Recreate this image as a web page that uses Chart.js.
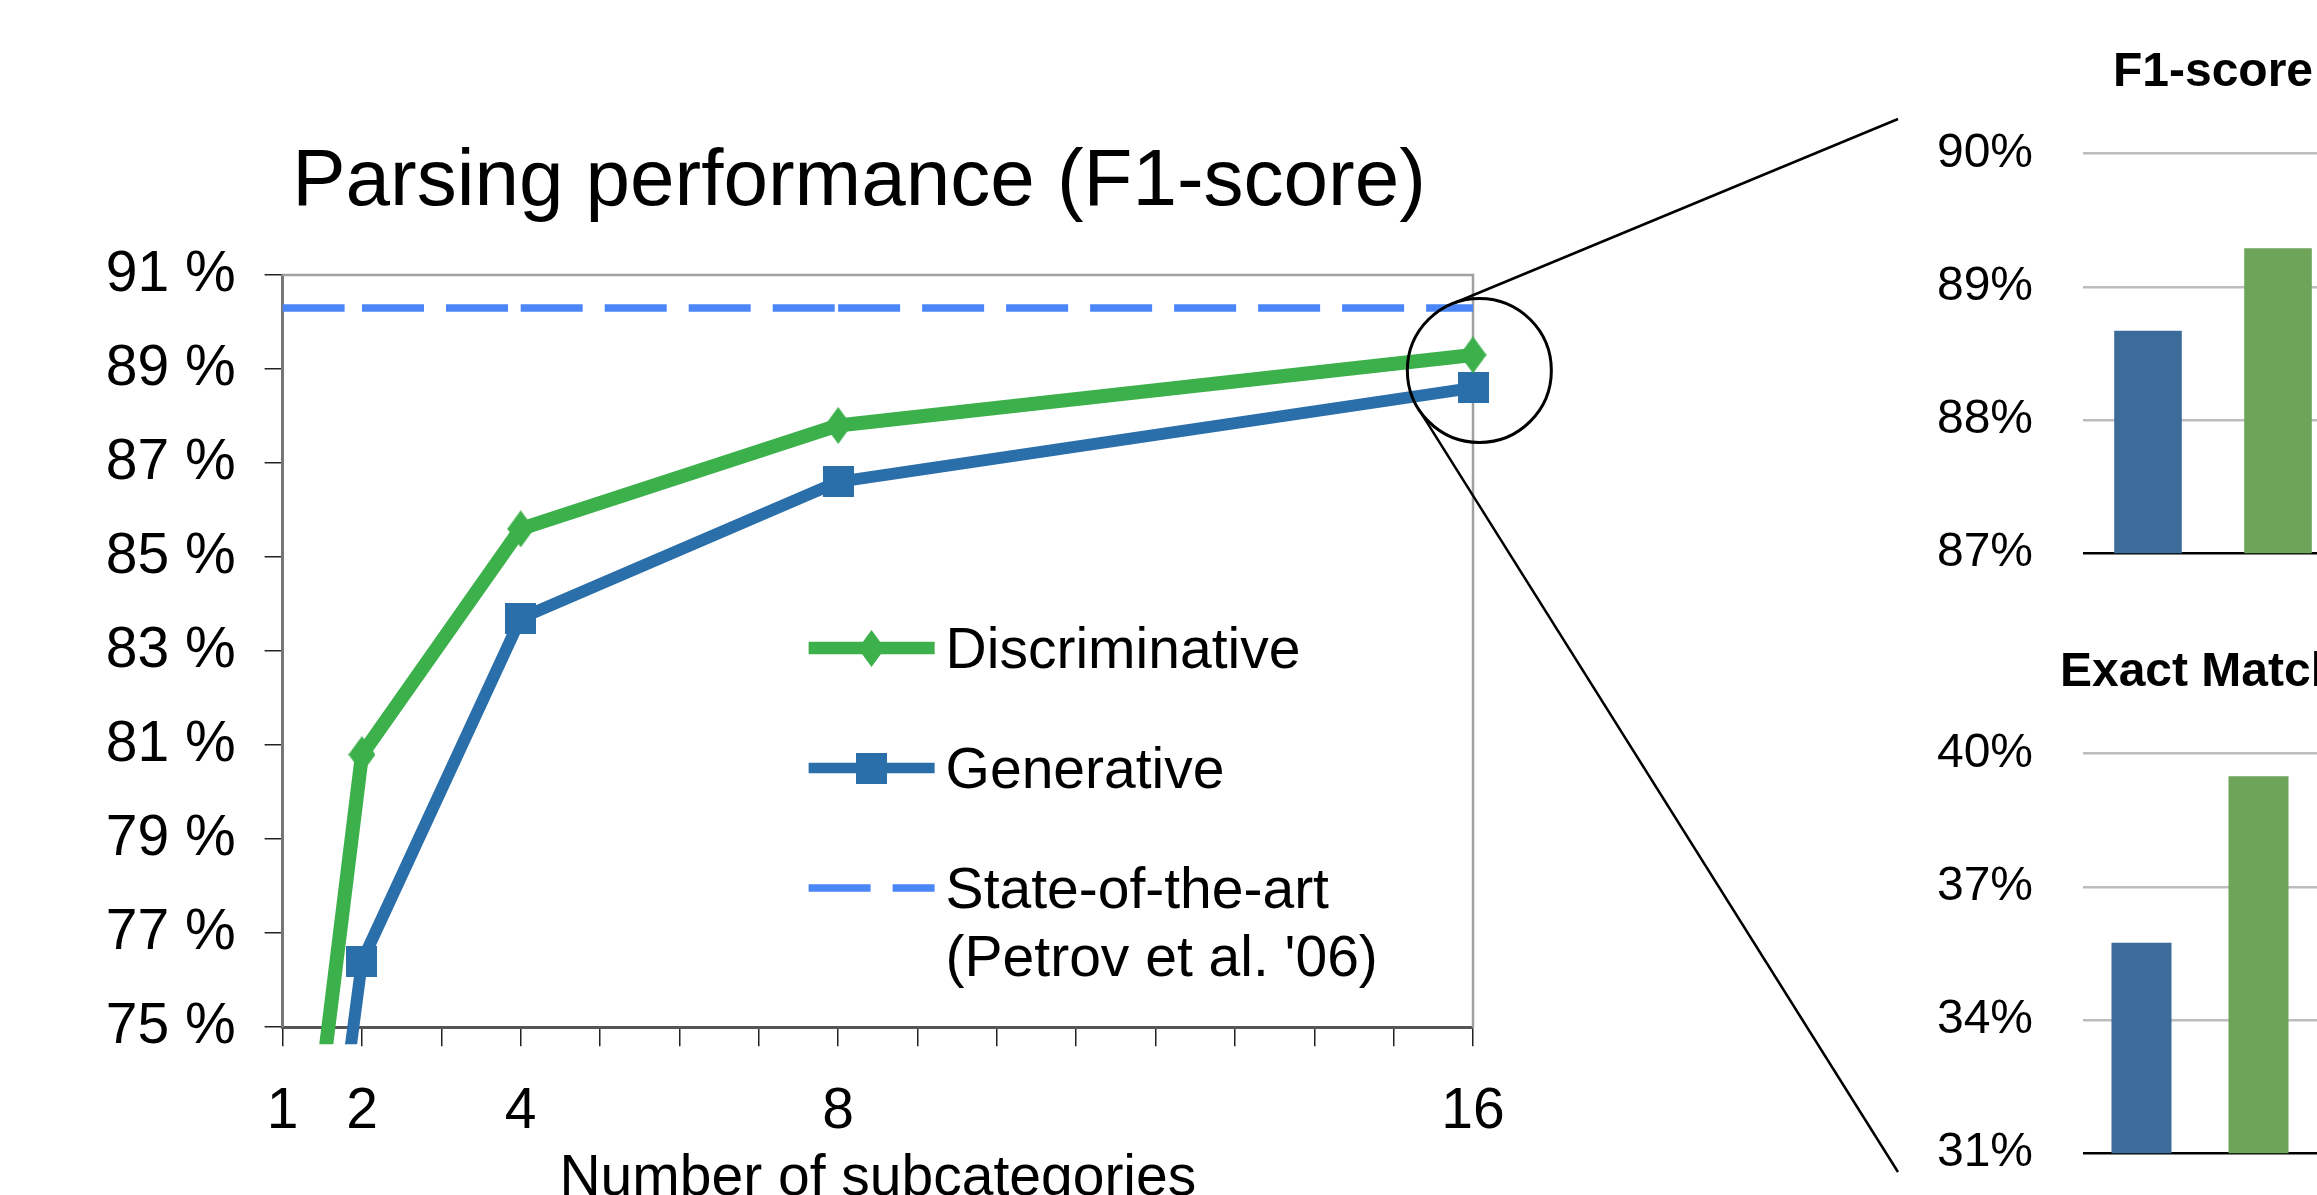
<!DOCTYPE html>
<html>
<head>
<meta charset="utf-8">
<title>Parsing performance</title>
<script src="https://cdn.jsdelivr.net/npm/chart.js@4.4.1/dist/chart.umd.min.js"></script>
<style>
  html, body { margin: 0; padding: 0; width: 2317px; height: 1195px; overflow: hidden; background: #fff; }
  canvas { position: absolute; display: block; }
  #lines { left: 0; top: 0; }
  #f1 { left: 1887px; top: 0; }
  #em { left: 1887px; top: 600px; }
</style>
</head>
<body>
<canvas id="lines" width="2317" height="1213"></canvas>
<canvas id="f1" width="652" height="632"></canvas>
<canvas id="em" width="626" height="632"></canvas>
<script>
// ---- data ----
const subcategories = [1, 2, 4, 8, 16];
const discriminative = [67.1, 80.8, 85.6, 87.8, 89.3];
const generative = [63.6, 76.4, 83.7, 86.6, 88.6];
const stateOfTheArt = [90.3, 90.3, 90.3, 90.3, 90.3];
const seriesNames = ['Discriminative', 'Generative', "State-of-the-art\n(Petrov et al. '06)"];
const xTickLabels = [1, 2, 4, 8, 16];

const barModels = ['Generative', 'Discriminative'];
const f1Scores = [88.67, 89.29];
const exactMatch = [35.74, 39.49];

// ---- styling ----
const FONT = "'Liberation Sans', Arial, Helvetica, sans-serif";
const GREEN = '#3cb04b';
const BLUE = '#2a6fa9';
const SOTA = '#4a86f7';
const BAR_COLORS = ['#3d6b9a', '#6ea45a'];

Chart.defaults.font.family = FONT;
Chart.defaults.color = '#000';

function diamondMarker(w, h, color) {
  const c = document.createElement('canvas');
  c.width = w; c.height = h;
  const g = c.getContext('2d');
  g.fillStyle = color;
  g.beginPath();
  g.moveTo(w / 2, 0); g.lineTo(w, h / 2); g.lineTo(w / 2, h); g.lineTo(0, h / 2);
  g.closePath(); g.fill();
  return c;
}
function squareMarker(s, color) {
  const c = document.createElement('canvas');
  c.width = s; c.height = s;
  const g = c.getContext('2d');
  g.fillStyle = color;
  g.fillRect(0, 0, s, s);
  return c;
}
const diamond = diamondMarker(27, 37, GREEN);
const square = squareMarker(31, BLUE);

const toPoints = ys => subcategories.map((x, i) => ({ x, y: ys[i] }));
const lineClip = { left: 30, top: 30, right: 40, bottom: 17 };

// empty right-hand box that balances the layout so the title sits where wanted
const spacerAxis = width => ({
  position: 'right',
  display: true,
  ticks: { display: false },
  grid: { display: false },
  border: { display: false },
  afterFit: s => { s.width = width; }
});

// grey box closing the plot on the top and right
const framePlugin = {
  id: 'plotFrame',
  beforeDatasetsDraw(chart) {
    const { ctx, chartArea: a } = chart;
    ctx.save();
    ctx.strokeStyle = '#a0a0a0';
    ctx.lineWidth = 2.5;
    ctx.beginPath();
    ctx.moveTo(a.left, a.top);
    ctx.lineTo(a.right, a.top);
    ctx.lineTo(a.right, a.bottom);
    ctx.stroke();
    ctx.restore();
  }
};

// legend placed inside the plot, line + marker per series
const legendPlugin = {
  id: 'insetLegend',
  afterDatasetsDraw(chart) {
    const { ctx, chartArea: ca } = chart;
    const x0 = ca.left + 526, len = 126;
    ctx.save();
    ctx.font = '57px ' + FONT;
    ctx.fillStyle = '#000';
    ctx.textBaseline = 'middle';
    ctx.textAlign = 'left';
    chart.data.datasets.forEach((ds, i) => {
      const y = ca.top + 373 + i * 120;
      ctx.save();
      ctx.strokeStyle = ds.borderColor;
      ctx.lineWidth = ds.legendLineWidth || ds.borderWidth;
      ctx.setLineDash(ds.borderDash || []);
      ctx.beginPath();
      ctx.moveTo(x0, y);
      ctx.lineTo(x0 + len, y);
      ctx.stroke();
      ctx.restore();
      const m = ds.pointStyle;
      if (m && m.width) ctx.drawImage(m, Math.round(x0 + len / 2 - m.width / 2), Math.round(y - m.height / 2));
      ds.label.split('\n').forEach((t, k) => ctx.fillText(t, x0 + len + 11, y + 4 + k * 68));
    });
    ctx.restore();
  }
};

// ring around the 16-subcategory results with callout lines to the bar panels
const focus = { x: 16.08, y: 88.97, r: 72 };
const connectors = [
  { angle: -109.4, to: [1898, 119] },
  { angle: 147, to: [1898, 1172] }
];
const focusPlugin = {
  id: 'focusRing',
  afterDraw(chart) {
    const { ctx, scales: { x, y } } = chart;
    const cx = x.getPixelForValue(focus.x), cy = y.getPixelForValue(focus.y);
    ctx.save();
    ctx.strokeStyle = '#000';
    ctx.lineWidth = 3;
    ctx.beginPath();
    ctx.arc(cx, cy, focus.r, 0, Math.PI * 2);
    ctx.stroke();
    ctx.lineWidth = 2.5;
    connectors.forEach(c => {
      const a = c.angle * Math.PI / 180;
      ctx.beginPath();
      ctx.moveTo(cx + focus.r * Math.cos(a), cy + focus.r * Math.sin(a));
      ctx.lineTo(c.to[0], c.to[1]);
      ctx.stroke();
    });
    ctx.restore();
  }
};

new Chart(document.getElementById('lines'), {
  type: 'line',
  data: {
    datasets: [
      {
        label: seriesNames[0], data: toPoints(discriminative),
        borderColor: GREEN, borderWidth: 14, legendLineWidth: 12.5, borderJoinStyle: 'round',
        pointStyle: diamond, pointRadius: 18, clip: lineClip
      },
      {
        label: seriesNames[1], data: toPoints(generative),
        borderColor: BLUE, borderWidth: 12, legendLineWidth: 10.5, borderJoinStyle: 'round',
        pointStyle: square, pointRadius: 18, clip: lineClip
      },
      {
        label: seriesNames[2], data: toPoints(stateOfTheArt),
        borderColor: SOTA, borderWidth: 7.5, borderDash: [62, 22],
        pointRadius: 0, clip: lineClip,
        // dash pattern restarts at every data point
        segment: { borderDashOffset: c => (c.p0DataIndex % 2) * 0.001 }
      }
    ]
  },
  options: {
    responsive: false,
    animation: false,
    events: [],
    layout: { padding: { left: 76.7, right: 675.7, top: 0, bottom: 0 } },
    plugins: {
      legend: { display: false },
      tooltip: { enabled: false },
      title: {
        display: true,
        text: 'Parsing performance (F1-score)',
        color: '#000',
        font: { size: 80, weight: 'normal', lineHeight: 1.2 },
        padding: { top: 135, bottom: 44 }
      }
    },
    scales: {
      x: {
        type: 'linear', min: 1, max: 16,
        ticks: {
          stepSize: 1, autoSkip: false, maxRotation: 0, padding: 32,
          color: '#000', font: { size: 57 },
          callback: v => xTickLabels.includes(v) ? String(v) : ''
        },
        grid: { drawOnChartArea: false, drawTicks: true, tickLength: 19, color: '#222', lineWidth: 1.5 },
        border: { display: true, color: '#555', width: 3 },
        title: {
          display: true, text: 'Number of subcategories', color: '#000',
          font: { size: 57, lineHeight: 1.2 }, padding: { top: -34, bottom: 0 }
        }
      },
      y: {
        min: 75, max: 91,
        ticks: { stepSize: 2, padding: 29, color: '#000', font: { size: 57 }, callback: v => v + ' %' },
        grid: { drawOnChartArea: false, drawTicks: true, tickLength: 18, color: '#222', lineWidth: 1.5 },
        border: { display: true, color: '#777', width: 3 }
      },
      spacer: spacerAxis(168.3)
    }
  },
  plugins: [framePlugin, legendPlugin, focusPlugin]
});

function barPanel(id, title, values, min, max, step, barFrac) {
  return new Chart(document.getElementById(id), {
    type: 'bar',
    data: {
      labels: barModels,
      datasets: [{ data: values, backgroundColor: BAR_COLORS, barPercentage: barFrac, categoryPercentage: 1 }]
    },
    options: {
      responsive: false,
      animation: false,
      events: [],
      layout: { padding: 0 },
      plugins: {
        legend: { display: false },
        tooltip: { enabled: false },
        title: {
          display: true, text: title, color: '#000',
          font: { size: 48, weight: 'bold', lineHeight: 1.2 },
          padding: { top: 44, bottom: 52 }
        }
      },
      scales: {
        x: { display: false },
        y: {
          min, max,
          afterFit: s => { s.width = 196; },
          ticks: { stepSize: step, padding: 50, color: '#000', font: { size: 48 }, callback: v => v + '%' },
          grid: { drawTicks: false, lineWidth: 2.5, color: c => c.tick && c.tick.value === min ? '#000' : '#bdbdbd' },
          border: { display: false }
        },
        spacer: spacerAxis(196)
      }
    }
  });
}

barPanel('f1', 'F1-score', f1Scores, 87, 90, 1, 0.52);
barPanel('em', 'Exact Match', exactMatch, 31, 40, 3, 0.513);
</script>
</body>
</html>
